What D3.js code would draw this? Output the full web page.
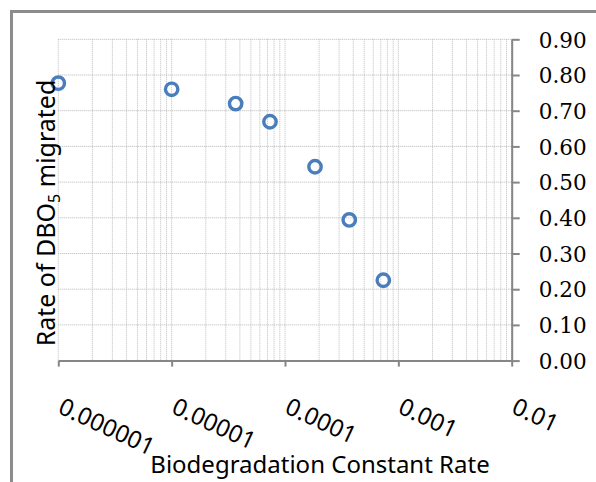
<!DOCTYPE html>
<html><head><meta charset="utf-8">
<script src="https://cdn.jsdelivr.net/npm/d3@7"></script>
<style>body{margin:0;background:#fff}svg{display:block}</style>
</head><body>
<svg id="c" width="596" height="482"></svg>
<script>
const rateK = [1e-6, 1e-5, 3.67e-5, 7.37e-5, 1.84e-4, 3.69e-4, 7.37e-4];
const dboMigrated = [0.777, 0.760, 0.720, 0.669, 0.543, 0.394, 0.225];
const xTickValues = [1e-6, 1e-5, 1e-4, 1e-3, 1e-2];
const xTickLabels = ["0.000001", "0.00001", "0.0001", "0.001", "0.01"];
const yTickValues = [0, 0.1, 0.2, 0.3, 0.4, 0.5, 0.6, 0.7, 0.8, 0.9];

const svg = d3.select("#c");
const L = 58.3, R = 511.7, T = 39.3, B = 360.6;
const x = d3.scaleLog().domain([1e-6, 1e-2]).range([L, R]);
const y = d3.scaleLinear().domain([0, 0.9]).range([B, T]);

// outer frame (only top/left visible)
svg.append("rect").attr("x", 11.5).attr("y", 11.5).attr("width", 700).attr("height", 600)
  .attr("fill", "none").attr("stroke", "#8c8c8c").attr("stroke-width", 3);

// minor vertical gridlines
const minor = [];
for (let e = -6; e < -2; e++) for (let m = 1; m <= 9; m++) minor.push(m * Math.pow(10, e));
minor.push(1e-2);
svg.append("g").selectAll("line").data(minor).join("line")
  .attr("x1", d => x(d)).attr("x2", d => x(d)).attr("y1", T).attr("y2", B)
  .attr("stroke", "#bdbdbd").attr("stroke-width", 1).attr("stroke-dasharray", "1,1");
// horizontal gridlines
svg.append("g").selectAll("line").data(yTickValues.slice(1)).join("line")
  .attr("x1", L).attr("x2", R).attr("y1", d => y(d)).attr("y2", d => y(d))
  .attr("stroke", "#b5b5b5").attr("stroke-width", 1).attr("stroke-dasharray", "1,1");

// x axis
const xa = svg.append("g").attr("transform", `translate(0,${B})`)
  .call(d3.axisBottom(x).tickValues(xTickValues).tickFormat((d, i) => xTickLabels[i]).tickSize(6).tickSizeOuter(0));
xa.select(".domain").attr("stroke", "#868686").attr("stroke-width", 2);
xa.selectAll(".tick line").attr("stroke", "#868686").attr("stroke-width", 2);
xa.selectAll(".tick text").attr("font-family", "Noto Sans").attr("font-size", 24).attr("fill", "#000")
  .attr("text-anchor", "start").attr("dy", null).attr("y", 0)
  .attr("transform", "translate(-2,52) rotate(25)");

// y axis on right
const ya = svg.append("g").attr("transform", `translate(${R},0)`)
  .call(d3.axisRight(y).tickValues(yTickValues).tickFormat(d3.format(".2f")).tickSize(8).tickSizeOuter(0));
ya.select(".domain").attr("stroke", "#868686").attr("stroke-width", 2);
ya.selectAll(".tick line").attr("stroke", "#868686").attr("stroke-width", 2);
ya.selectAll(".tick text").attr("font-family", "DejaVu Serif").attr("font-size", 21.5).attr("fill", "#000")
  .attr("x", 27).attr("dy", "0.36em");

// points
svg.append("g").selectAll("circle").data(rateK.map((k, i) => [k, dboMigrated[i]])).join("circle")
  .attr("cx", d => x(d[0])).attr("cy", d => y(d[1])).attr("r", 6.2)
  .attr("fill", "none").attr("stroke", "#4a7ebb").attr("stroke-width", 3.4);

// axis titles
svg.append("text").attr("x", 320).attr("y", 473).attr("text-anchor", "middle")
  .attr("font-family", "Noto Sans").attr("font-size", 24).attr("fill", "#000")
  .text("Biodegradation Constant Rate");
const yt = svg.append("text").attr("transform", "translate(55,213) rotate(-90)").attr("text-anchor", "middle")
  .attr("font-family", "Noto Sans").attr("font-size", 25).attr("fill", "#000");
yt.append("tspan").text("Rate of DBO");
yt.append("tspan").attr("font-size", 16).attr("dy", 5).text("5");
yt.append("tspan").attr("dy", -5).text(" migrated");
</script>
</body></html>
